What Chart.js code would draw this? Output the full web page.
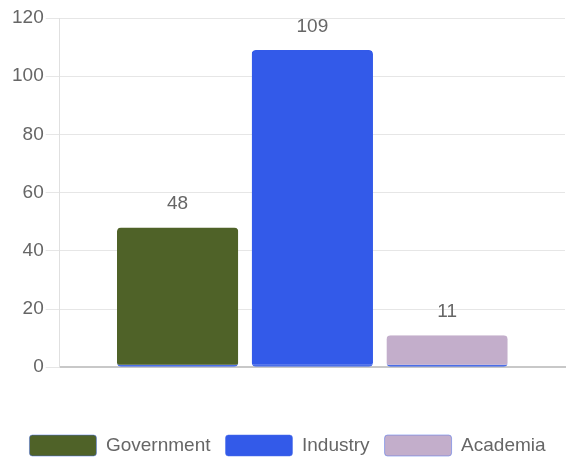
<!DOCTYPE html>
<html>
<head>
<meta charset="utf-8">
<script src="https://cdn.jsdelivr.net/npm/chart.js@4"></script>
<style>
  html, body { margin: 0; padding: 0; background: #fff; }
  #wrap { width: 566px; height: 458px; }
</style>
</head>
<body>
<div id="wrap"><canvas id="sectorChart"></canvas></div>
<script>
// Data
const categories = [''];
const seriesNames = ['Government', 'Industry', 'Academia'];
const seriesValues = [48, 109, 11];
const seriesColors = ['#4f6228', '#335ae9', '#c3aecb'];
const yTicks = [0, 20, 40, 60, 80, 100, 120];

const fontColor = '#666';
const fontFamily = '"Liberation Sans", Arial, sans-serif';
const fontSize = 19;

// Draw the value above each bar
const valueLabels = {
    id: 'valueLabels',
    afterDatasetsDraw(chart) {
        const ctx = chart.ctx;
        ctx.save();
        ctx.fillStyle = fontColor;
        ctx.font = fontSize + 'px ' + fontFamily;
        ctx.textAlign = 'center';
        ctx.textBaseline = 'bottom';
        chart.data.datasets.forEach((ds, i) => {
            const meta = chart.getDatasetMeta(i);
            meta.data.forEach((bar, j) => {
                ctx.fillText(ds.data[j], bar.x, bar.y - 14);
            });
        });
        ctx.restore();
    }
};

const datasets = seriesNames.map((name, i) => ({
    label: name,
    data: [seriesValues[i]],
    backgroundColor: seriesColors[i],
    borderColor: '#4a6ee8',
    borderWidth: { top: 0, left: 0, right: 0, bottom: 2 },
    borderSkipped: false,
    borderRadius: 4
}));

new Chart(document.getElementById('sectorChart'), {
    type: 'bar',
    data: { labels: categories, datasets },
    options: {
        responsive: true,
        maintainAspectRatio: false,
        animation: false,
        layout: { padding: { top: 18, right: 1, left: 10, bottom: -8 } },
        scales: {
            x: {
                grid: { display: false },
                border: { color: '#c8c8c8', width: 2 },
                ticks: { display: true, font: { size: fontSize, family: fontFamily }, color: fontColor, padding: 11 }
            },
            y: {
                min: 0,
                max: 120,
                afterBuildTicks: axis => { axis.ticks = yTicks.map(v => ({ value: v })); },
                grid: { color: '#e6e6e6', tickLength: 14 },
                border: { color: '#e0e0e0' },
                ticks: { font: { size: fontSize, family: fontFamily }, color: fontColor, padding: 2 }
            }
        },
        plugins: {
            legend: {
                position: 'bottom',
                labels: {
                    boxWidth: 67,
                    boxHeight: 21,
                    padding: 15,
                    color: fontColor,
                    font: { size: fontSize, family: fontFamily },
                    useBorderRadius: true,
                    borderRadius: 3
                }
            },
            tooltip: { enabled: false }
        }
    },
    plugins: [valueLabels]
});
</script>
</body>
</html>
